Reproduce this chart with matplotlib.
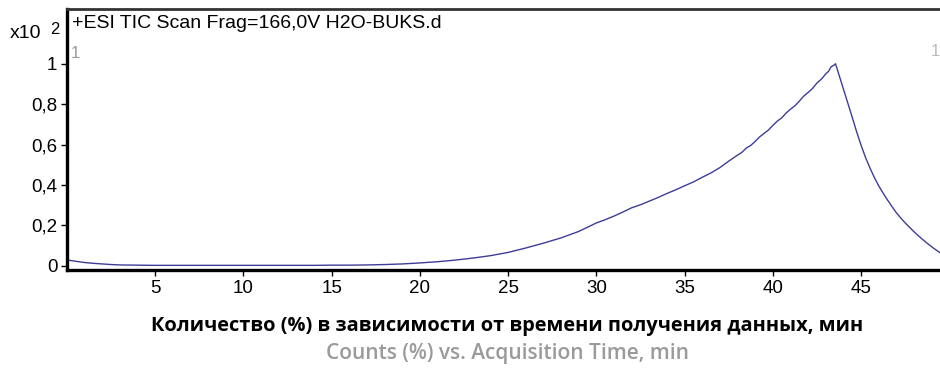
import numpy as np
import matplotlib.pyplot as plt

# TIC trace, time in min, counts in units of 10^2 %
time_min = [0.05, 0.5, 1.0, 1.5, 2.0, 2.5, 3.0, 4.0, 5.0, 6.0, 8.0, 10.0,
            12.0, 14.0, 15.0, 16.0, 17.0, 18.0, 19.0, 20.0, 21.0, 22.0,
            23.0, 24.0, 25.0, 26.0, 27.0, 28.0, 29.0, 30.0, 30.5, 31.0,
            31.5, 32.0, 32.5, 33.0, 33.5, 34.0, 34.5, 35.0, 35.5, 36.0,
            36.5, 37.0, 37.5, 38.0, 38.25, 38.5, 38.75, 39.0, 39.25, 39.5,
            39.75, 40.0, 40.25, 40.5, 40.75, 41.0, 41.25, 41.5, 41.75, 42.0,
            42.25, 42.5, 42.75, 43.0, 43.15, 43.3, 43.45, 43.55, 43.7, 43.85,
            44.0, 44.25, 44.5, 44.75, 45.0, 45.25, 45.5, 45.75, 46.0, 46.25,
            46.5, 46.75, 47.0, 47.25, 47.5, 47.75, 48.0, 48.25, 48.5, 48.75,
            49.0, 49.25, 49.5]
counts = [0.028, 0.022, 0.016, 0.012, 0.009, 0.006, 0.004, 0.003, 0.002,
          0.002, 0.002, 0.002, 0.002, 0.002, 0.003, 0.003, 0.004, 0.006,
          0.009, 0.014, 0.020, 0.028, 0.038, 0.050, 0.066, 0.088, 0.112,
          0.138, 0.170, 0.212, 0.228, 0.246, 0.266, 0.287, 0.302, 0.320,
          0.338, 0.358, 0.376, 0.396, 0.415, 0.438, 0.460, 0.486, 0.518,
          0.548, 0.562, 0.583, 0.596, 0.616, 0.638, 0.655, 0.672, 0.695,
          0.716, 0.732, 0.756, 0.775, 0.792, 0.815, 0.840, 0.858, 0.878,
          0.905, 0.924, 0.950, 0.962, 0.985, 0.992, 1.000, 0.958, 0.916,
          0.874, 0.804, 0.734, 0.662, 0.596, 0.536, 0.484, 0.437, 0.395,
          0.359, 0.325, 0.293, 0.262, 0.236, 0.212, 0.190, 0.168, 0.148,
          0.129, 0.111, 0.094, 0.078, 0.063]

x_ticks = [5, 10, 15, 20, 25, 30, 35, 40, 45]
y_ticks = [0, 0.2, 0.4, 0.6, 0.8, 1]
y_tick_labels = ['0', '0,2', '0,4', '0,6', '0,8', '1']

title = '+ESI TIC Scan Frag=166,0V H2O-BUKS.d'
xlabel_ru = 'Количество (%) в зависимости от времени получения данных, мин'
xlabel_en = 'Counts (%) vs. Acquisition Time, min'

plt.rcParams['font.family'] = ['Liberation Sans', 'DejaVu Sans']

fig = plt.figure(figsize=(9.4, 3.69), dpi=100)
ax = fig.add_axes([0.0713, 0.2683, 0.9287, 0.7073])

ax.plot(time_min, counts, color='#3d3d98', lw=1.0)

ax.set_xlim(0.0, 49.47)
ax.set_ylim(-0.021, 1.271)
ax.set_xticks(x_ticks)
ax.set_yticks(y_ticks)
ax.set_yticklabels(y_tick_labels)
ax.tick_params(axis='both', labelsize=13.5, length=4, width=1, direction='out',
               colors='black', pad=3)

ax.spines['right'].set_visible(False)
ax.spines['left'].set_linewidth(2.4)
ax.spines['bottom'].set_linewidth(2.4)
ax.spines['top'].set_linewidth(2.0)
ax.spines['top'].set_color('#333333')

fig.text(72 / 940, 1 - 24 / 369, title, ha='left', va='center',
         fontsize=14)
fig.text(71 / 940, 1 - 53 / 369, '1', ha='left', va='center',
         fontsize=12, color='#999999')
fig.text(940 / 940, 1 - 51 / 369, '1', ha='right', va='center',
         fontsize=12, color='#bbbbbb')

# scale factor next to the y axis
fig.text(10 / 940, 1 - 33 / 369, 'x10', ha='left', va='center', fontsize=14)
fig.text(50 / 940, 1 - 29 / 369, '2', ha='left', va='center', fontsize=12)

fig.text(0.54, 1 - 326 / 369, xlabel_ru, ha='center', va='center',
         fontsize=14.4, fontweight='bold', family=['Open Sans', 'DejaVu Sans'])
fig.text(0.54, 1 - 353 / 369, xlabel_en, ha='center', va='center',
         fontsize=15, fontweight='semibold', color='#9a9a9a',
         family=['Open Sans', 'DejaVu Sans'])

fig.savefig('out.png', dpi=100)
